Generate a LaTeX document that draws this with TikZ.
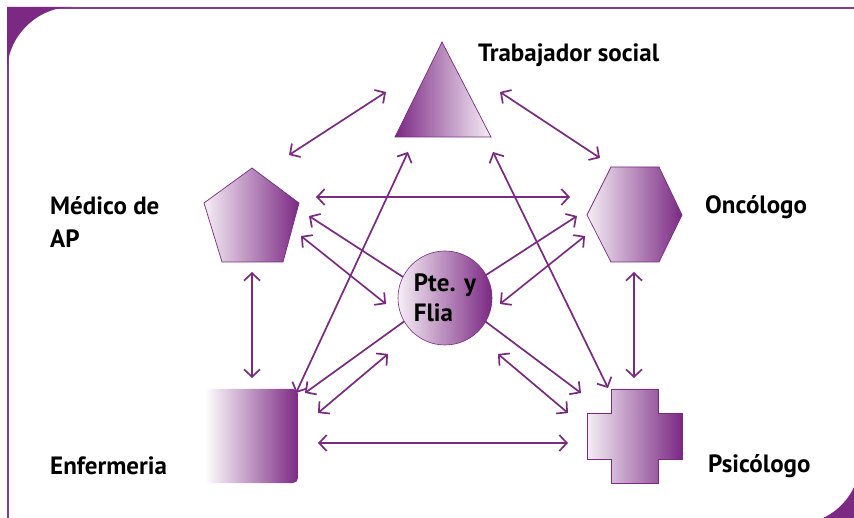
\documentclass[tikz,border=0pt]{standalone}
\usepackage{fontspec}
\setmainfont{PT Sans}
\usetikzlibrary{arrows.meta}
\definecolor{pcol}{RGB}{123,41,131}
\definecolor{fcol}{RGB}{138,58,148}
\definecolor{lite}{RGB}{246,238,246}
\begin{document}
\begin{tikzpicture}[x=1pt,y=-1pt,
  tip/.tip={Straight Barb[length=7.5pt,width=16pt,line width=1.7pt]},
  conn/.style={draw=pcol, line width=1.7pt, tip-tip},
  one/.style={draw=pcol, line width=1.7pt, -tip},
  lbl/.style={font=\fontsize{25}{33}\selectfont\bfseries, anchor=west, align=left, inner sep=0pt},
  shp/.style={draw=pcol, line width=0.7pt, left color=lite, right color=pcol}
]
\useasboundingbox (0,0) rectangle (854,518);
\fill[white] (0,0) rectangle (854,518);
\clip (0,0) rectangle (854,518);
% frame
\draw[fcol, line width=2.5pt] (8,8) -- (860,8);
\draw[fcol, line width=2pt] (8,8) -- (8,524);
\fill[pcol] (7,7) -- (72,7) .. controls (36.7,7) and (7,36.7) .. (7,72) -- cycle;
\fill[pcol] (860,460) .. controls (860,495.3) and (831.3,524) .. (796,524) -- (860,524) -- cycle;

% arrow end coordinates
\coordinate (a1s) at (386,92);  \coordinate (a1e) at (289,155);
\coordinate (a2s) at (500,92);  \coordinate (a2e) at (600,158);
\coordinate (a3s) at (316,197); \coordinate (a3e) at (570,197);
\coordinate (a4s) at (420,288); \coordinate (a4e) at (309,216);
\coordinate (a5s) at (301,236); \coordinate (a5e) at (386,304);
\coordinate (a6s) at (466,288); \coordinate (a6e) at (577,216);
\coordinate (a7s) at (585,236); \coordinate (a7e) at (500,304);
\coordinate (a8s) at (420,310); \coordinate (a8e) at (305,393);
\coordinate (a9s) at (318,413); \coordinate (a9e) at (388,354);
\coordinate (a10s) at (470,310); \coordinate (a10e) at (581,393);
\coordinate (a11s) at (568,413); \coordinate (a11e) at (498,354);
\coordinate (a12s) at (408,152); \coordinate (a12e) at (296,393);
\coordinate (a13s) at (493,152); \coordinate (a13e) at (608,388);
\coordinate (a14s) at (252,272); \coordinate (a14e) at (252,378);
\coordinate (a15s) at (634,272); \coordinate (a15e) at (634,378);
\coordinate (a16s) at (318,443); \coordinate (a16e) at (568,443);

\draw[conn] (a1s) -- (a1e);
\draw[conn] (a2s) -- (a2e);
\draw[conn] (a3s) -- (a3e);
\draw[one] (a4s) -- (a4e);
\draw[conn] (a5s) -- (a5e);
\draw[one] (a6s) -- (a6e);
\draw[conn] (a7s) -- (a7e);
\draw[one] (a8s) -- (a8e);
\draw[conn] (a9s) -- (a9e);
\draw[one] (a10s) -- (a10e);
\draw[conn] (a11s) -- (a11e);
\draw[conn] (a12s) -- (a12e);
\draw[conn] (a13s) -- (a13e);
\draw[conn] (a14s) -- (a14e);
\draw[conn] (a15s) -- (a15e);
\draw[conn] (a16s) -- (a16e);

% shapes
\path[shp, left color=pcol, right color=lite] (442,42) -- (491,137) -- (395,137) -- cycle;
\path[shp] (252,168) -- (299,203) -- (283,262) -- (222,262) -- (204,203) -- cycle;
\path[shp] (611,167) -- (659,167) -- (682,215) -- (659,262) -- (611,262) -- (587,215) -- cycle;
\shade[left color=white, right color=pcol, rounded corners=5pt] (205,389) rectangle (298,483);
\path[shp] (611,389) -- (658,389) -- (658,413) -- (682,413) -- (682,459) -- (658,459) -- (658,483) -- (611,483) -- (611,459) -- (587,459) -- (587,413) -- (611,413) -- cycle;
\node[circle, minimum size=94pt, inner sep=0pt, shp, line width=0.6pt,
      font=\fontsize{25}{30}\selectfont\bfseries, align=left] (pt) at (445,298) {Pte. y\\Flia};

% labels
\node[lbl] (ts) at (478,55) {Trabajador social};
\node[lbl] (md) at (50,222) {Médico de\\AP};
\node[lbl] (on) at (705,207) {Oncólogo};
\node[lbl] (en) at (50,466) {Enfermeria};
\node[lbl] (ps) at (708,466) {Psicólogo};
\end{tikzpicture}
\end{document}
